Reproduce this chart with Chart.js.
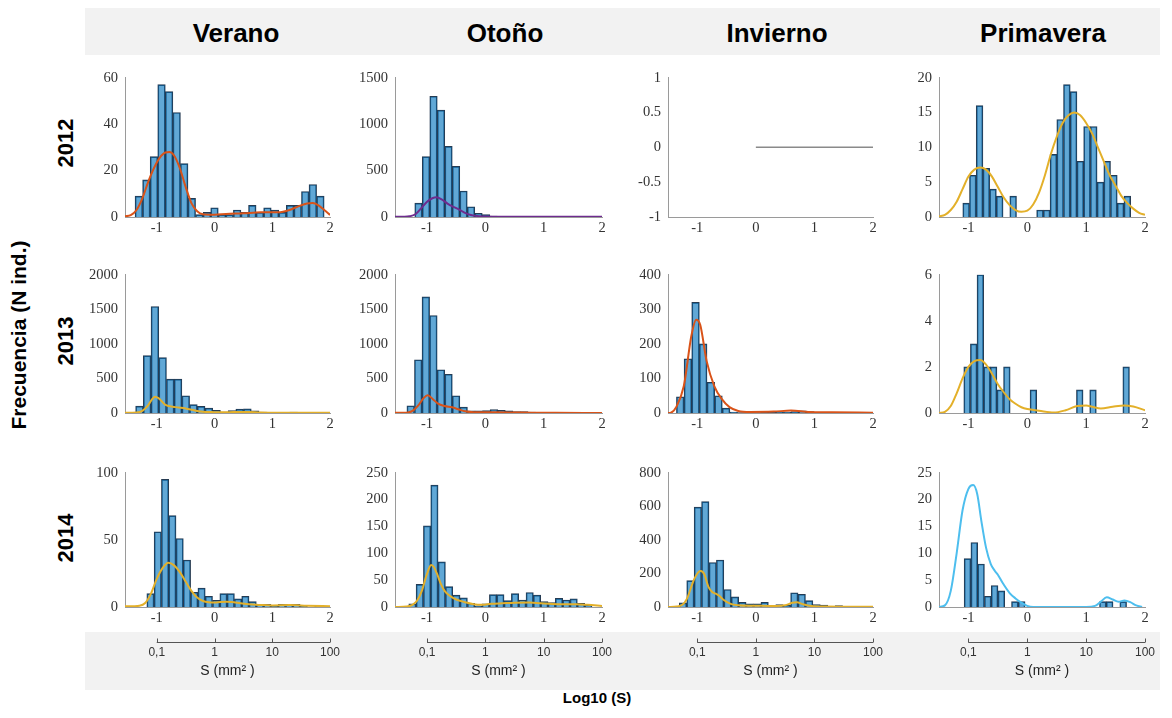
<!DOCTYPE html>
<html>
<head>
<meta charset="utf-8">
<script src="https://cdn.jsdelivr.net/npm/chart.js@4/dist/chart.umd.min.js"></script>
<style>
  html, body { margin: 0; padding: 0; }
  body { width: 1172px; height: 718px; background: #fff; position: relative; overflow: hidden;
         font-family: 'Liberation Sans', Arial, sans-serif; color: #000; }
  #frame { position: absolute; left: 85px; top: 8px; width: 1075px; height: 682px; background: #f2f2f2; }
  #inner { position: absolute; left: 85px; top: 55px; width: 1075px; height: 577px; background: #fff; }
  canvas { position: absolute; }
  .lbl { position: absolute; white-space: nowrap; font-weight: bold; transform: translate(-50%, -50%); }
  .season { font-size: 26px; }
  .year { font-size: 22px; transform: translate(-50%, -50%) rotate(-90deg); }
  .ylab { font-size: 21px; transform: translate(-50%, -50%) rotate(-90deg); }
  .xlab { font-size: 15px; }
</style>
</head>
<body>
<div id="frame"></div>
<div id="inner"></div>

<div class="lbl season" style="left:236px;top:33px">Verano</div>
<div class="lbl season" style="left:505px;top:33px">Otoño</div>
<div class="lbl season" style="left:777px;top:33px">Invierno</div>
<div class="lbl season" style="left:1043px;top:33px">Primavera</div>

<div class="lbl year" style="left:66px;top:143px">2012</div>
<div class="lbl year" style="left:66px;top:341px">2013</div>
<div class="lbl year" style="left:66px;top:538px">2014</div>

<div class="lbl ylab" style="left:19px;top:335px">Frecuencia (N ind.)</div>
<div class="lbl xlab" style="left:597px;top:697px">Log10 (S)</div>

<script>
// ---- axis ticks ----
const xTicks = [-1, 0, 1, 2];                     // log10(S)
const sizeTickLabels = ['0,1', '1', '10', '100']; // S (mm²) at the same positions

// ---- histogram counts per season/year; bins given as [first edge, bin width] in log10(S) ----
const ver12 = [9, 16, 26, 57, 54, 45, 23, 8, 1, 2, 4, 1, 1, 3, 2, 5, 2, 4, 3, 2, 5, 5, 11, 14, 9];
const ver12Bins = [-1.376, 0.131];
const oto12 = [150, 650, 1300, 1150, 760, 545, 280, 110, 40, 25, 10, 3, 2, 1, 1, 0, 0, 0, 4, 2];
const oto12Bins = [-1.211, 0.1286];
const pri12 = [2, 6, 16, 7, 4, 3, 0, 3, 0, 0, 0, 1, 1, 9, 14, 19, 18, 8, 13, 13, 5, 8, 6, 2, 3];
const pri12Bins = [-1.096, 0.1141];

const ver13 = [100, 830, 1540, 800, 490, 490, 250, 120, 95, 70, 40, 15, 35, 55, 60, 30, 15, 5, 3, 5, 12, 4, 1];
const ver13Bins = [-1.366, 0.1335];
const oto13 = [105, 770, 1680, 1410, 625, 560, 250, 85, 30, 30, 35, 50, 40, 30, 20, 20, 15];
const oto13Bins = [-1.346, 0.1298];
const inv13 = [47, 157, 320, 200, 89, 50, 14, 3, 1, 1, 1, 2, 2, 3, 3, 4, 6, 4, 2, 1];
const inv13Bins = [-1.356, 0.1305];
const pri13 = [2, 3, 6, 2, 2, 1, 2, 0, 0, 0, 1, 0, 0, 0, 0, 0, 0, 1, 0, 1, 0, 0, 0, 0, 2];
const pri13Bins = [-1.079, 0.1126];

const ver14 = [10, 56, 95, 68, 51, 35, 11, 14, 8, 5, 10, 10, 6, 8, 4, 2, 2, 1, 2, 2, 2, 1, 0, 1];
const ver14Bins = [-1.172, 0.1264];
const oto14 = [6, 42, 151, 227, 84, 38, 22, 17, 7, 2, 6, 23, 23, 12, 25, 13, 27, 22, 10, 8, 16, 13, 15, 7, 4];
const oto14Bins = [-1.314, 0.1257];
const inv14 = [25, 157, 595, 628, 265, 280, 104, 60, 28, 19, 19, 28, 5, 15, 10, 85, 76, 38, 15, 12, 2, 8];
const inv14Bins = [-1.307, 0.1267];
const pri14 = [9, 12, 8, 2, 4, 3, 0, 1, 1, 0, 0, 0, 0, 0, 0, 0, 0, 0, 0, 0, 1, 1, 0, 1];
const pri14Bins = [-1.073, 0.115];

// ---- fitted density curves, [log10(S), frequency] ----
const ver12Fit = [[-1.55, 0.3], [-1.45, 0.8], [-1.35, 3], [-1.25, 8], [-1.15, 15], [-1.05, 21], [-0.95, 25.5], [-0.85, 27.8], [-0.78, 28], [-0.7, 26.5], [-0.6, 21], [-0.5, 13], [-0.4, 6], [-0.3, 2.5], [-0.2, 1.2], [0, 1], [0.2, 1.3], [0.5, 1.6], [0.8, 2], [1.1, 2], [1.3, 3], [1.45, 4.6], [1.6, 5.8], [1.7, 6], [1.8, 5], [1.9, 3], [2, 0.9]];
const oto12Fit = [[-1.55, 2], [-1.4, 3], [-1.3, 8], [-1.2, 30], [-1.1, 95], [-1.0, 165], [-0.9, 205], [-0.84, 212], [-0.75, 190], [-0.65, 145], [-0.55, 110], [-0.45, 80], [-0.35, 45], [-0.25, 22], [-0.1, 8], [0, 5], [0.3, 3], [0.7, 3], [1, 2], [1.5, 2], [2, 2]];
const inv12Line = [[0, 0], [2, 0]];
const pri12Fit = [[-1.5, 0.1], [-1.4, 0.3], [-1.3, 1], [-1.2, 2.2], [-1.1, 4], [-1.0, 5.8], [-0.9, 6.8], [-0.8, 7.1], [-0.7, 6.8], [-0.6, 5.8], [-0.5, 4.3], [-0.4, 2.8], [-0.3, 1.7], [-0.2, 1.0], [-0.1, 0.75], [0, 0.9], [0.1, 1.8], [0.2, 3.5], [0.3, 6], [0.4, 9], [0.5, 11.5], [0.6, 13.5], [0.7, 14.6], [0.8, 15], [0.9, 14.6], [1.0, 13.5], [1.1, 12], [1.2, 10], [1.3, 8], [1.4, 6], [1.5, 4.5], [1.6, 3], [1.7, 2], [1.8, 1.2], [1.9, 0.6], [2, 0.3]];

const ver13Fit = [[-1.55, 5], [-1.35, 8], [-1.25, 30], [-1.15, 110], [-1.08, 200], [-1.03, 235], [-0.97, 215], [-0.85, 118], [-0.68, 85], [-0.5, 66], [-0.39, 47], [-0.3, 30], [-0.2, 18], [0, 12], [0.2, 10], [0.45, 16], [0.6, 15], [0.8, 7], [1.1, 4], [1.4, 5], [1.6, 3], [2, 2]];
const oto13Fit = [[-1.55, 2], [-1.35, 5], [-1.25, 30], [-1.15, 110], [-1.06, 215], [-0.99, 258], [-0.9, 200], [-0.82, 140], [-0.7, 100], [-0.57, 82], [-0.45, 50], [-0.35, 25], [-0.2, 12], [0, 10], [0.2, 10], [0.5, 7], [0.8, 4], [1.2, 2], [2, 1]];
const inv13Fit = [[-1.5, 0], [-1.45, 1], [-1.36, 17], [-1.23, 78], [-1.1, 224], [-1.02, 270], [-0.95, 255], [-0.84, 150], [-0.71, 78], [-0.58, 40], [-0.45, 17], [-0.3, 6], [-0.1, 3], [0.3, 4], [0.6, 7], [0.9, 3], [1.3, 2], [2, 1]];
const pri13Fit = [[-1.5, 0], [-1.4, 0.05], [-1.3, 0.3], [-1.2, 0.85], [-1.1, 1.5], [-1.0, 2.0], [-0.9, 2.25], [-0.8, 2.3], [-0.7, 2.1], [-0.6, 1.7], [-0.5, 1.25], [-0.4, 0.9], [-0.3, 0.6], [-0.2, 0.4], [-0.1, 0.25], [0, 0.17], [0.2, 0.1], [0.45, 0.02], [0.65, 0.12], [0.85, 0.3], [1.0, 0.32], [1.1, 0.27], [1.25, 0.19], [1.45, 0.27], [1.65, 0.33], [1.8, 0.28], [2, 0.12]];

const ver14Fit = [[-1.55, 0.5], [-1.3, 1], [-1.2, 3], [-1.1, 10], [-1.0, 21], [-0.9, 29], [-0.8, 33], [-0.7, 31], [-0.6, 26], [-0.5, 19], [-0.4, 12], [-0.3, 7], [-0.2, 4.5], [-0.1, 3.5], [0, 3.3], [0.1, 3.8], [0.2, 4], [0.3, 3.7], [0.45, 2.8], [0.6, 2], [0.8, 1.5], [1.0, 1.2], [1.3, 1.4], [1.6, 1], [2, 0.5]];
const oto14Fit = [[-1.55, 0], [-1.35, 1], [-1.25, 4], [-1.17, 12], [-1.09, 30], [-1.0, 62], [-0.93, 78], [-0.88, 74], [-0.83, 62], [-0.76, 42], [-0.7, 30], [-0.6, 20], [-0.5, 14], [-0.35, 9], [-0.2, 5], [-0.05, 4], [0.1, 6], [0.3, 7], [0.5, 8], [0.75, 8.5], [0.95, 7], [1.15, 5.5], [1.35, 5], [1.55, 5], [1.75, 4], [2, 2]];
const inv14Fit = [[-1.5, 0], [-1.35, 3], [-1.25, 15], [-1.18, 47], [-1.06, 160], [-0.98, 208], [-0.94, 214], [-0.88, 195], [-0.81, 120], [-0.74, 88], [-0.69, 80], [-0.62, 65], [-0.56, 45], [-0.43, 19], [-0.3, 10], [-0.1, 7], [0.1, 7], [0.35, 6], [0.5, 10], [0.62, 25], [0.7, 28], [0.8, 17], [0.95, 6], [1.2, 3], [1.6, 2], [2, 1]];
const pri14Fit = [[-1.5, 0], [-1.4, 0.3], [-1.3, 3], [-1.2, 10], [-1.1, 18], [-1.0, 22], [-0.92, 22.7], [-0.85, 21], [-0.78, 16], [-0.7, 11], [-0.62, 8], [-0.55, 6.7], [-0.5, 6], [-0.42, 4.5], [-0.3, 2.6], [-0.2, 1.6], [-0.1, 0.8], [0, 0.2], [0.1, 0], [1.0, 0], [1.15, 0.2], [1.25, 1], [1.35, 1.8], [1.45, 1.4], [1.55, 1], [1.65, 1.2], [1.75, 0.9], [1.85, 0.3], [1.95, 0]];

// ---- y-axis ranges per panel (row-major) ----
const yMins  = [0, 0, -1, 0,   0, 0, 0, 0,   0, 0, 0, 0];
const yMaxs  = [60, 1500, 1, 20,   2000, 2000, 400, 6,   100, 250, 800, 25];
const ySteps = [20, 500, 0.5, 5,   500, 500, 100, 2,   50, 50, 200, 5];

// ---- colours ----
const ORANGE = '#D95319', PURPLE = '#6E2C8E', YELLOW = '#E3B02A', SKY = '#4DBEEE', GREY = '#8a8a8a';
const BAR_FILL = 'rgba(0, 114, 189, 0.62)', BAR_EDGE = '#263b52';
const AXIS = '#9a9a9a', TICK_TXT = '#333';

// ---- page layout of the plot areas ----
const colLeft  = [125, 395, 668, 939];
const colRight = [330, 602, 873, 1145];
const rowTop    = [72, 269, 467];
const rowBottom = [214, 410, 607];
const colXMin  = [-1.55, -1.55, -1.5, -1.5];

const panels = [
  { counts: ver12, bins: ver12Bins, curves: [ver12Fit], colors: [ORANGE] },
  { counts: oto12, bins: oto12Bins, curves: [oto12Fit], colors: [PURPLE] },
  { counts: null,  bins: null,      curves: [inv12Line], colors: [GREY] },
  { counts: pri12, bins: pri12Bins, curves: [pri12Fit], colors: [YELLOW] },
  { counts: ver13, bins: ver13Bins, curves: [ver13Fit], colors: [YELLOW] },
  { counts: oto13, bins: oto13Bins, curves: [oto13Fit], colors: [ORANGE] },
  { counts: inv13, bins: inv13Bins, curves: [inv13Fit], colors: [ORANGE] },
  { counts: pri13, bins: pri13Bins, curves: [pri13Fit], colors: [YELLOW] },
  { counts: ver14, bins: ver14Bins, curves: [ver14Fit], colors: [YELLOW] },
  { counts: oto14, bins: oto14Bins, curves: [oto14Fit], colors: [YELLOW] },
  { counts: inv14, bins: inv14Bins, curves: [inv14Fit], colors: [YELLOW] },
  { counts: pri14, bins: pri14Bins, curves: [pri14Fit], colors: [SKY] },
];

const serif = { family: "'Liberation Serif', 'Times New Roman', serif", size: 14.5 };
const sans = { family: "'Liberation Sans', Arial, sans-serif", size: 12 };

// Secondary size axis (S in mm²) under the bottom row: a bracket line with upward ticks
const sizeAxisLine = {
  id: 'sizeAxisLine',
  afterDraw(chart) {
    const s = chart.scales.x2;
    if (!s) return;
    const ctx = chart.ctx;
    const y = Math.round(s.top) + 0.5;
    const a = s.getPixelForValue(xTicks[0]);
    const b = s.getPixelForValue(xTicks[xTicks.length - 1]);
    ctx.save();
    ctx.strokeStyle = '#555';
    ctx.lineWidth = 1;
    ctx.beginPath();
    ctx.moveTo(a, y);
    ctx.lineTo(b, y);
    xTicks.forEach(v => {
      const px = Math.round(s.getPixelForValue(v)) + 0.5;
      ctx.moveTo(px, y);
      ctx.lineTo(px, y - 4);
    });
    ctx.stroke();
    ctx.restore();
  }
};

function buildPanel(idx) {
  const r = Math.floor(idx / 4), c = idx % 4;
  const p = panels[idx];
  const padL = 45, padT = 10, padR = 14;
  const lastRow = r === 2;
  const xAxisH = lastRow ? 35 : 25;
  const bottomH = lastRow ? 73 : 28;
  const L = colLeft[c], R = colRight[c], T = rowTop[r], B = rowBottom[r];
  const w = R - L + padL + padR, h = B - T + padT + bottomH;

  const canvas = document.createElement('canvas');
  canvas.width = w; canvas.height = h;
  canvas.style.width = w + 'px'; canvas.style.height = h + 'px';
  canvas.style.left = (L - padL) + 'px';
  canvas.style.top = (T - padT) + 'px';
  document.body.appendChild(canvas);

  const datasets = [];
  p.curves.forEach((curve, k) => {
    datasets.push({
      type: 'line',
      data: curve.map(([x, y]) => ({ x, y })),
      borderColor: p.colors[k],
      borderWidth: p.counts ? 2 : 1.5,
      pointRadius: 0,
      cubicInterpolationMode: 'monotone',
      order: 0
    });
  });
  if (p.counts) {
    const [edge0, bw] = p.bins;
    datasets.push({
      type: 'bar',
      data: p.counts.map((n, i) => ({ x: edge0 + bw * (i + 0.5), y: n })),
      backgroundColor: BAR_FILL,
      borderColor: BAR_EDGE,
      borderWidth: 1,
      barPercentage: 1,
      categoryPercentage: 1,
      order: 1
    });
  }

  const scales = {
    x: {
      type: 'linear', min: colXMin[c], max: 2, offset: false,
      grid: { display: false, drawTicks: false },
      border: { color: AXIS, width: 1 },
      afterBuildTicks: s => { s.ticks = xTicks.map(v => ({ value: v })); },
      ticks: { font: serif, color: TICK_TXT, padding: 2, maxRotation: 0, autoSkip: false, callback: v => String(v) },
      afterFit: s => { s.height = xAxisH; }
    },
    y: {
      type: 'linear', min: yMins[idx], max: yMaxs[idx],
      grid: { display: false, drawTicks: false },
      border: { color: AXIS, width: 1 },
      ticks: { stepSize: ySteps[idx], font: serif, color: TICK_TXT, padding: 7, callback: v => String(v) },
      afterFit: s => { s.width = padL; }
    }
  };
  if (lastRow) {
    scales.x2 = {
      type: 'linear', position: 'bottom', weight: 1, min: colXMin[c], max: 2, offset: false,
      grid: { display: false, drawTicks: false },
      border: { display: false },
      afterBuildTicks: s => { s.ticks = xTicks.map(v => ({ value: v })); },
      ticks: { font: sans, color: TICK_TXT, padding: 3, maxRotation: 0, autoSkip: false,
               callback: (v, i) => sizeTickLabels[i] },
      title: { display: true, text: 'S (mm² )', font: { family: sans.family, size: 14 }, color: '#222', padding: { top: 1, bottom: 0 } },
      afterFit: s => { s.height = bottomH - xAxisH; }
    };
  }

  new Chart(canvas, {
    type: 'bar',
    data: { datasets },
    options: {
      responsive: false,
      animation: false,
      devicePixelRatio: 1,
      layout: { padding: { top: padT, right: padR, left: 0, bottom: 0 } },
      plugins: { legend: { display: false }, tooltip: { enabled: false } },
      scales
    },
    plugins: [sizeAxisLine]
  });
}

for (let i = 0; i < panels.length; i++) buildPanel(i);
</script>
</body>
</html>
